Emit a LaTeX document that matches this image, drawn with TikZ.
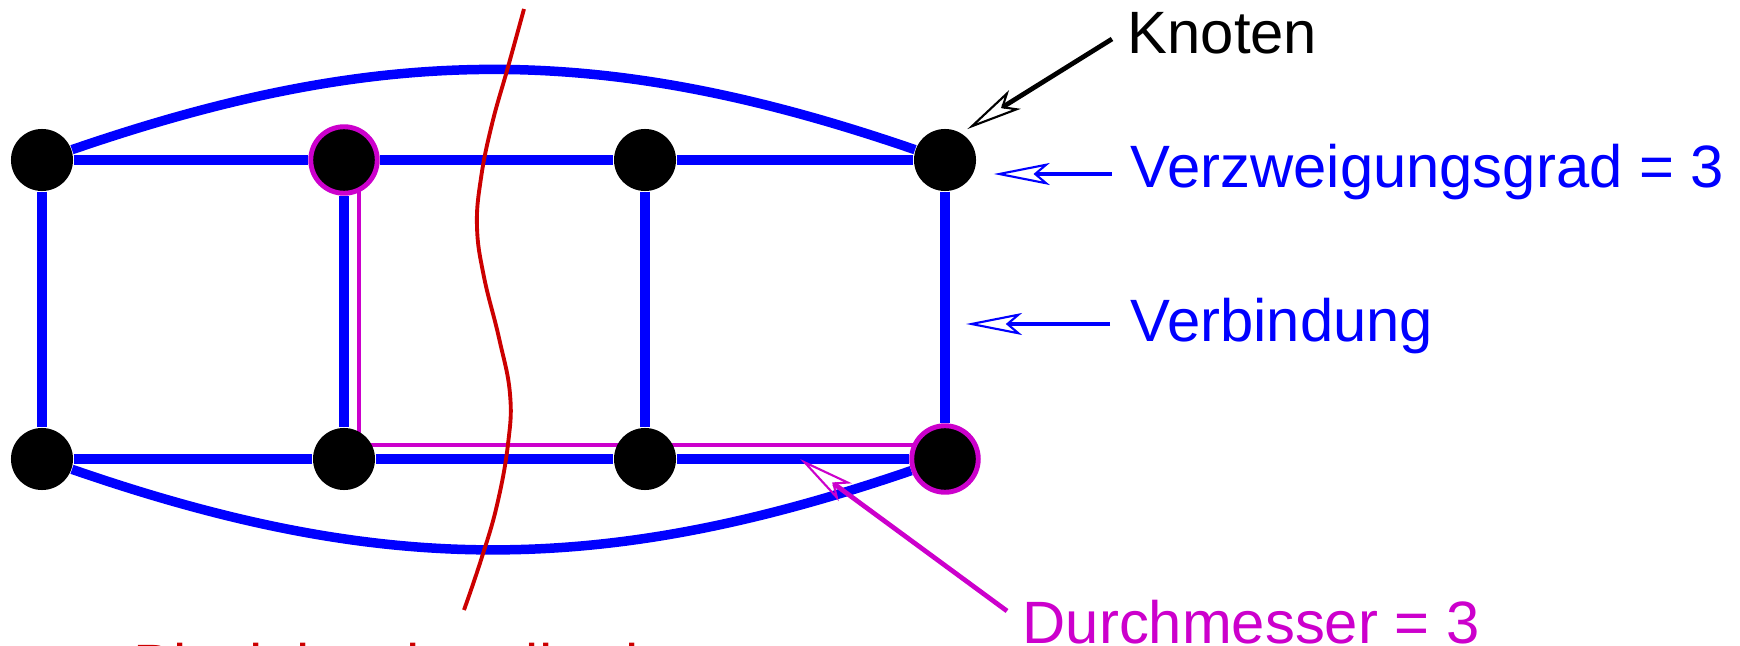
\documentclass[tikz,border=0pt]{standalone}
\usepackage{fontspec}
\setmainfont{Liberation Sans}
\usepackage{tikz}
\usetikzlibrary{arrows.meta, positioning, calc}
\definecolor{netblue}{RGB}{0,0,255}
\definecolor{diampink}{RGB}{204,0,204}
\definecolor{cutred}{RGB}{204,0,0}
\pgfdeclarelayer{background}
\pgfsetlayers{background,main}

\begin{document}
\begin{tikzpicture}[x=0.01cm, y=-0.01cm,
  knot/.style={circle, fill=black, inner sep=0pt, minimum size=0.62cm},
  ringknot/.style={knot, draw=diampink, line width=1.4pt, minimum size=0.665cm},
  link/.style={netblue, line width=2.7pt},
  lbl/.style={anchor=base west, inner sep=0pt, font=\fontsize{17}{20}\selectfont},
  pointer/.style={line width=1.35pt, -{Stealth[open, length=5.6mm, width=2.2mm, inset=1.3mm, line width=0.6pt]}}]
  \useasboundingbox (0,0) rectangle (1740,646);

  % nodes of the network
  \node[knot] (n1) at (42,160) {};
  \node[ringknot] (n2) at (344,160) {};
  \node[knot] (n3) at (645,160) {};
  \node[knot] (n4) at (945,160) {};
  \node[knot] (n5) at (42,459) {};
  \node[knot] (n6) at (344,459) {};
  \node[knot] (n7) at (645,459) {};
  \node[ringknot] (n8) at (945,459) {};

  \begin{pgfonlayer}{background}
    \draw[link] (n1) -- (n2) -- (n3) -- (n4);
    \draw[link] (n5) -- (n6) -- (n7) -- (n8);
    \foreach \a/\b in {n1/n5, n2/n6, n3/n7, n4/n8}
      \draw[link] (\a) -- (\b);
    \draw[link] (n1) to[bend left=19] (n4);
    \draw[link] (n5) to[bend right=19] (n8);
    % longest path
    \draw[diampink, line width=1.3pt] ([xshift=0.15cm]n2.center) |- ([yshift=0.14cm]n8.center);
  \end{pgfonlayer}

  % bisection cut
  \draw[cutred, line width=1.1pt] plot[smooth, tension=0.7] coordinates {
    (524,9) (508,67) (492,124) (481,178) (477,227) (484,277) (499,338)
    (510,394) (508,444) (497,505) (481,560) (464,610)};

  \node[lbl] (knoten) at (1127,54) {Knoten};
  \node[lbl, netblue] (grad) at (1130,188) {Verzweigungsgrad = 3};
  \node[lbl, netblue] (verb) at (1130,342) {Verbindung};
  \node[lbl, diampink] (durch) at (1022,643) {Durchmesser = 3};
  \node[lbl, cutred] (bisekt) at (133,686) {Bisektionsbandbreite};

  \coordinate (kt) at (1112,39);
  \coordinate (vt) at (1112,174);
  \coordinate (bt) at (1110,324);
  \coordinate (dt) at (1007,611);
  \coordinate (d78) at ($(n7)!0.517!(n8)$);

  \draw[pointer, shorten >=0.07cm] (kt) -- (n4.59);
  \draw[pointer, netblue, shorten >=0.17cm] (vt) -- (vt -| n4.east);
  \draw[pointer, netblue, shorten >=0.21cm] (bt) -- (bt -| n4);
  \draw[pointer, diampink] (dt) -- (d78);
\end{tikzpicture}
\end{document}
